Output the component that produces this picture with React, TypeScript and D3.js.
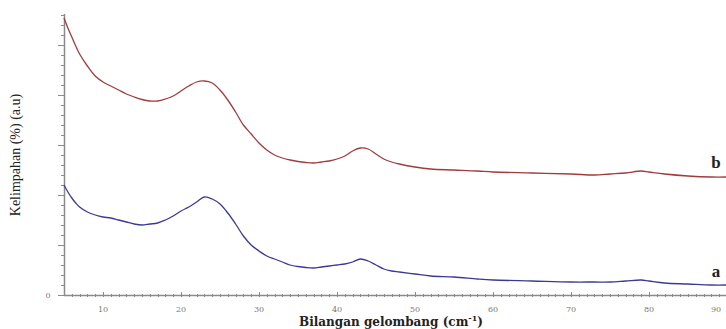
import React, { useEffect, useRef } from 'react';
import * as d3 from 'd3';

// wavenumber samples
const wavenumbers = [
    5, 5.5, 6, 6.5, 7, 8, 9, 10, 11, 12, 13, 14, 15, 16, 17, 18, 19, 20, 21, 22, 23, 24, 25, 26,
    27, 28, 29, 30, 31, 32, 33, 34, 35, 36, 37, 38, 39, 40, 41, 42, 43, 44, 45, 46, 47, 48,
    50, 52, 55, 58, 60, 65, 70, 73, 75, 77, 79, 80, 82, 85, 88, 90,
];

// spectrum b (upper, red)
const seriesB = [
    5.54, 5.34, 5.16, 4.98, 4.82, 4.58, 4.38, 4.26, 4.18, 4.10, 4.02, 3.96, 3.91, 3.88, 3.88, 3.92,
    3.98, 4.08, 4.18, 4.26, 4.28, 4.24, 4.10, 3.90, 3.66, 3.40, 3.22, 3.04, 2.90, 2.80, 2.74, 2.70,
    2.67, 2.65, 2.64, 2.66, 2.68, 2.72, 2.78, 2.88, 2.94, 2.92, 2.82, 2.72, 2.66, 2.62,
    2.56, 2.52, 2.50, 2.48, 2.46, 2.44, 2.42, 2.40, 2.42, 2.44, 2.48, 2.46, 2.42, 2.38, 2.36, 2.36,
];

// spectrum a (lower, blue)
const seriesA = [
    2.20, 2.06, 1.94, 1.84, 1.76, 1.66, 1.60, 1.56, 1.54, 1.50, 1.46, 1.42, 1.40, 1.42, 1.44, 1.50,
    1.58, 1.68, 1.76, 1.86, 1.96, 1.92, 1.82, 1.64, 1.42, 1.18, 1.00, 0.88, 0.78, 0.72, 0.66, 0.60,
    0.57, 0.55, 0.54, 0.56, 0.58, 0.60, 0.62, 0.66, 0.72, 0.68, 0.60, 0.52, 0.48, 0.46,
    0.42, 0.38, 0.36, 0.32, 0.30, 0.28, 0.26, 0.26, 0.26, 0.28, 0.30, 0.28, 0.24, 0.22, 0.20, 0.20,
];

const xTickLabels = [10, 20, 30, 40, 50, 60, 70, 80, 90];

const width = 726;
const height = 329;

export default function App() {
    const svgRef = useRef<SVGSVGElement | null>(null);

    useEffect(() => {
        if (!svgRef.current) return;
        const svg = d3.select(svgRef.current);
        svg.selectAll('*').remove(); // <-- clear previous

        const x = d3.scaleLinear([5, 90], [64, 727]);
        const y = d3.scaleLinear([0, 5.62], [295, 14]);
        const axisColor = '#8a8a8a';

        // y axis line + ticks
        svg.append('line')
            .attr('x1', 64.5).attr('x2', 64.5)
            .attr('y1', y(5.62)).attr('y2', y(0))
            .attr('stroke', axisColor).attr('stroke-width', 1.5);
        const yTicks = d3.range(0, 5.61, 0.2);
        svg.append('g').selectAll('line')
            .data(yTicks)
            .join('line')
            .attr('x1', (_d, i) => i % 5 === 0 ? 58 : 61)
            .attr('x2', 64)
            .attr('y1', d => Math.round(y(d)) + 0.5)
            .attr('y2', d => Math.round(y(d)) + 0.5)
            .attr('stroke', axisColor);
        svg.append('text')
            .attr('x', 48).attr('y', y(0) + 3)
            .attr('text-anchor', 'middle')
            .attr('font-family', 'DejaVu Serif')
            .attr('font-size', 8)
            .attr('fill', '#777')
            .text('0');

        // x axis line + ticks
        svg.append('line')
            .attr('x1', 64).attr('x2', 727)
            .attr('y1', 295.5).attr('y2', 295.5)
            .attr('stroke', axisColor).attr('stroke-width', 1.5);
        svg.append('g').selectAll('line')
            .data(d3.range(6, 91, 1))
            .join('line')
            .attr('x1', d => Math.round(x(d)) + 0.5)
            .attr('x2', d => Math.round(x(d)) + 0.5)
            .attr('y1', d => d % 10 === 0 ? 292 : 294)
            .attr('y2', 297)
            .attr('stroke', axisColor);
        svg.append('g').selectAll('text')
            .data(xTickLabels)
            .join('text')
            .attr('x', d => Math.min(x(d), 716))
            .attr('y', 312)
            .attr('text-anchor', 'middle')
            .attr('font-family', 'DejaVu Serif')
            .attr('font-size', 8)
            .attr('fill', '#777')
            .text(d => d);

        // spectra
        const line = d3.line<number>()
            .x((_d, i) => x(wavenumbers[i]))
            .y(d => y(d))
            .curve(d3.curveCatmullRom.alpha(0.5));
        svg.append('path')
            .attr('fill', 'none')
            .attr('stroke', '#a03c3c')
            .attr('stroke-width', 1.3)
            .attr('d', line(seriesB));
        svg.append('path')
            .attr('fill', 'none')
            .attr('stroke', '#3b3b96')
            .attr('stroke-width', 1.3)
            .attr('d', line(seriesA));

        // curve letters
        svg.append('text')
            .attr('x', 716).attr('y', 168)
            .attr('text-anchor', 'middle')
            .attr('font-family', 'Liberation Serif')
            .attr('font-weight', 'bold')
            .attr('font-size', 17)
            .attr('fill', '#222')
            .text('b');
        svg.append('text')
            .attr('x', 716).attr('y', 277)
            .attr('text-anchor', 'middle')
            .attr('font-family', 'Liberation Serif')
            .attr('font-weight', 'bold')
            .attr('font-size', 17)
            .attr('fill', '#222')
            .text('a');

        // axis titles
        svg.append('text')
            .attr('transform', 'translate(20,155) rotate(-90)')
            .attr('text-anchor', 'middle')
            .attr('font-family', 'Liberation Serif')
            .attr('font-size', 14)
            .attr('fill', '#222')
            .text('Kelimpahan (%) (a.u)');
        const xt = svg.append('text')
            .attr('x', 391).attr('y', 326)
            .attr('text-anchor', 'middle')
            .attr('font-family', 'DejaVu Serif')
            .attr('font-weight', 'bold')
            .attr('font-size', 12)
            .attr('fill', '#222');
        xt.append('tspan').text('Bilangan gelombang (cm');
        xt.append('tspan').attr('font-size', 8).attr('dy', -5).text('-1');
        xt.append('tspan').attr('dy', 5).text(')');
    }, []);

    return (
        <svg
            ref={svgRef}
            width={width}
            height={height}
            style={{ position: 'absolute', left: 0, top: 0, background: '#fff' }}
        />
    );
}
